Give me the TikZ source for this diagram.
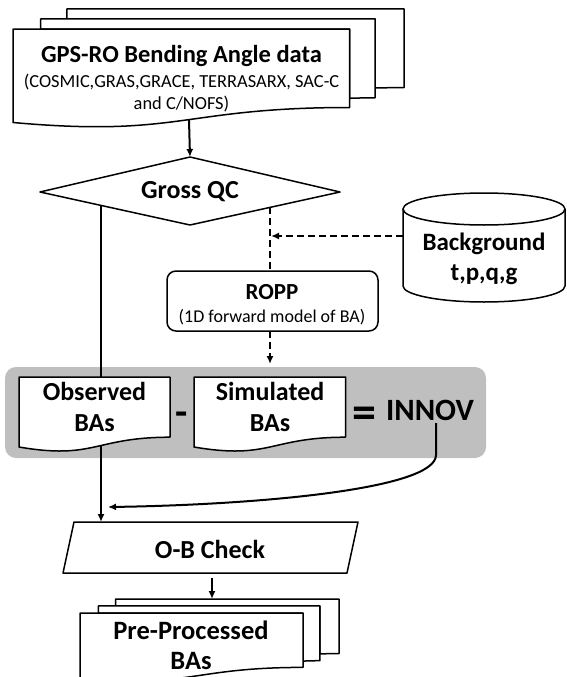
\documentclass[tikz,border=0pt]{standalone}
\usepackage{fontspec}
\setmainfont{Carlito}
\usetikzlibrary{arrows.meta}
\definecolor{panelgrey}{HTML}{BFBFBF}
\tikzset{
  shapeline/.style={draw=black, line width=1.5pt, fill=white, line join=round},
  conn/.style={draw=black, line width=2pt},
  arr/.style={conn, -{Latex[length=8pt,width=7pt]}},
  dconn/.style={conn, dash pattern=on 7pt off 4pt},
  darr/.style={dconn, -{Latex[length=8pt,width=7pt]}},
  bigbold/.style={font=\bfseries\fontsize{26}{31}\selectfont, align=center, inner sep=0pt},
  titlefont/.style={font=\bfseries\fontsize{24.5}{28}\selectfont, inner sep=0pt},
  subfont/.style={font=\fontsize{18.4}{22}\selectfont, align=center, inner sep=0pt},
}
\begin{document}
\begin{tikzpicture}[x=1pt,y=-1pt]
\useasboundingbox (0,0) rectangle (566,677);
\clip (0,0) rectangle (566,677);

% ---- top multi-document ----
\path[shapeline] (66.8,18.9) -- (66.8,9) -- (404,9) -- (404,87.6) .. controls (389.5,87.6) and (375,88) .. (375,88) -- (375,18.9) -- cycle;
\path[shapeline] (40.7,29.1) -- (40.7,18.9) -- (375,18.9) -- (375,97.8) .. controls (362.3,97.8) and (349.6,98.3) .. (349.6,98.3) -- (349.6,29.1) -- cycle;
\path[shapeline] (13,122.5) .. controls (181.3,137.6) and (181.3,107.5) .. (349.6,107.5) -- (349.6,29.1) -- (13,29.1) -- cycle;
\node[titlefont] (gpstitle) at (181.5,56) {GPS-RO Bending Angle data};
\node[subfont] (gpssub) at (181.5,93) {(COSMIC,GRAS,GRACE, TERRASARX, SAC-C\\and C/NOFS)};
\coordinate (gpsout) at (189,120);

% ---- diamond ----
\path[shapeline] (40,192) -- (190,157) -- (340,192) -- (190,225) -- cycle;
\coordinate (qctop) at (190,157);
\node[font=\bfseries\fontsize{26}{30}\selectfont, inner sep=0pt] (qc) at (190,192) {Gross QC};
\coordinate (qcleft) at (101,205.3);
\coordinate (qcright) at (270,207.4);

% ---- background cylinder ----
\path[fill=white] (403,209) -- (403,286) arc[start angle=180, end angle=360, x radius=81pt, y radius=16pt] -- (565,209) -- cycle;
\draw[line width=1.5pt] (403,209) -- (403,286) arc[start angle=180, end angle=360, x radius=81pt, y radius=16pt] -- (565,209);
\draw[line width=1.5pt, fill=white] (484,209) ellipse [x radius=81pt, y radius=16pt];
\node[font=\bfseries\fontsize{25}{30}\selectfont, align=center, inner sep=0pt] (bg) at (484,259) {Background\\t,p,q,g};
\coordinate (bgleft) at (403,236);
\coordinate (bgjoin) at (271,236);

% ---- ROPP ----
\path[shapeline, rounded corners=9pt] (167,271) rectangle (378,331);
\coordinate (ropptop) at (270,271);
\coordinate (roppbot) at (270,331);
\node[font=\bfseries\fontsize{23}{27}\selectfont, inner sep=0pt] (ropp) at (272,292) {ROPP};
\node[font=\fontsize{18}{21}\selectfont, inner sep=0pt] (roppsub) at (272,317) {(1D forward model of BA)};

% ---- grey panel ----
\path[fill=panelgrey, rounded corners=11pt] (5,367) rectangle (486,458);
\coordinate (simin) at (270,364);

% observed document
\path[shapeline] (19,377) -- (170,377) -- (170,437.2) .. controls (94.5,437.2) and (94.5,460) .. (19,447) -- cycle;
\coordinate (obstop) at (101,377);
\coordinate (obsbot) at (101,445);
\node[bigbold] (obs) at (94.5,407) {Observed\\BAs};
% simulated document
\path[shapeline] (194,377) -- (345.5,377) -- (345.5,437.2) .. controls (270,437.2) and (270,460) .. (194,447) -- cycle;
\node[bigbold] (sim) at (270,407) {Simulated\\BAs};

\node[font=\bfseries\fontsize{40}{40}\selectfont, inner sep=0pt] (minus) at (182,419) {-};
\node[font=\bfseries\fontsize{48}{48}\selectfont, inner sep=0pt] (equals) at (364,418) {=};
\node[font=\bfseries\fontsize{31}{34}\selectfont, inner sep=0pt] (innov) at (430,410) {INNOV};
\coordinate (innovout) at (436,423);

% ---- O-B check ----
\path[shapeline] (74,522) -- (358,522) -- (347,573) -- (63,573) -- cycle;
\coordinate (obtop) at (101,522);
\coordinate (obin) at (108,507);
\coordinate (obbot) at (212,578);
\node[font=\bfseries\fontsize{26}{30}\selectfont, inner sep=0pt] (obcheck) at (210,549) {O-B Check};

% ---- bottom multi-document ----
\path[shapeline] (115.6,605.9) -- (115.6,599) -- (339,599) -- (339,653.6) .. controls (329.4,653.6) and (319.8,653.9) .. (319.8,653.9) -- (319.8,605.9) -- cycle;
\path[shapeline] (98.4,613) -- (98.4,605.9) -- (319.8,605.9) -- (319.8,660.7) .. controls (311.4,660.7) and (303,661.1) .. (303,661.1) -- (303,613) -- cycle;
\path[shapeline] (80,677.9) .. controls (191.5,688.4) and (191.5,667.4) .. (303,667.4) -- (303,613) -- (80,613) -- cycle;
\coordinate (pptop) at (212,599);
\node[font=\bfseries\fontsize{26.5}{30}\selectfont, align=center, inner sep=0pt] (pp) at (191,645) {Pre-Processed\\BAs};

% ---- connectors ----
\draw[arr] (gpsout) -- (qctop);
\draw[conn] (qcleft) -- (obstop);
\draw[arr] (obsbot) -- (obtop);
\draw[dconn] (qcright) -- (ropptop);
\draw[darr] (bgleft) -- (bgjoin);
\draw[darr] (roppbot) -- (simin);
\draw[arr] (innovout) -- (436,455) .. controls (436,490) and (250,505) .. (obin);
\draw[arr] (obbot) -- (pptop);
\end{tikzpicture}
\end{document}
